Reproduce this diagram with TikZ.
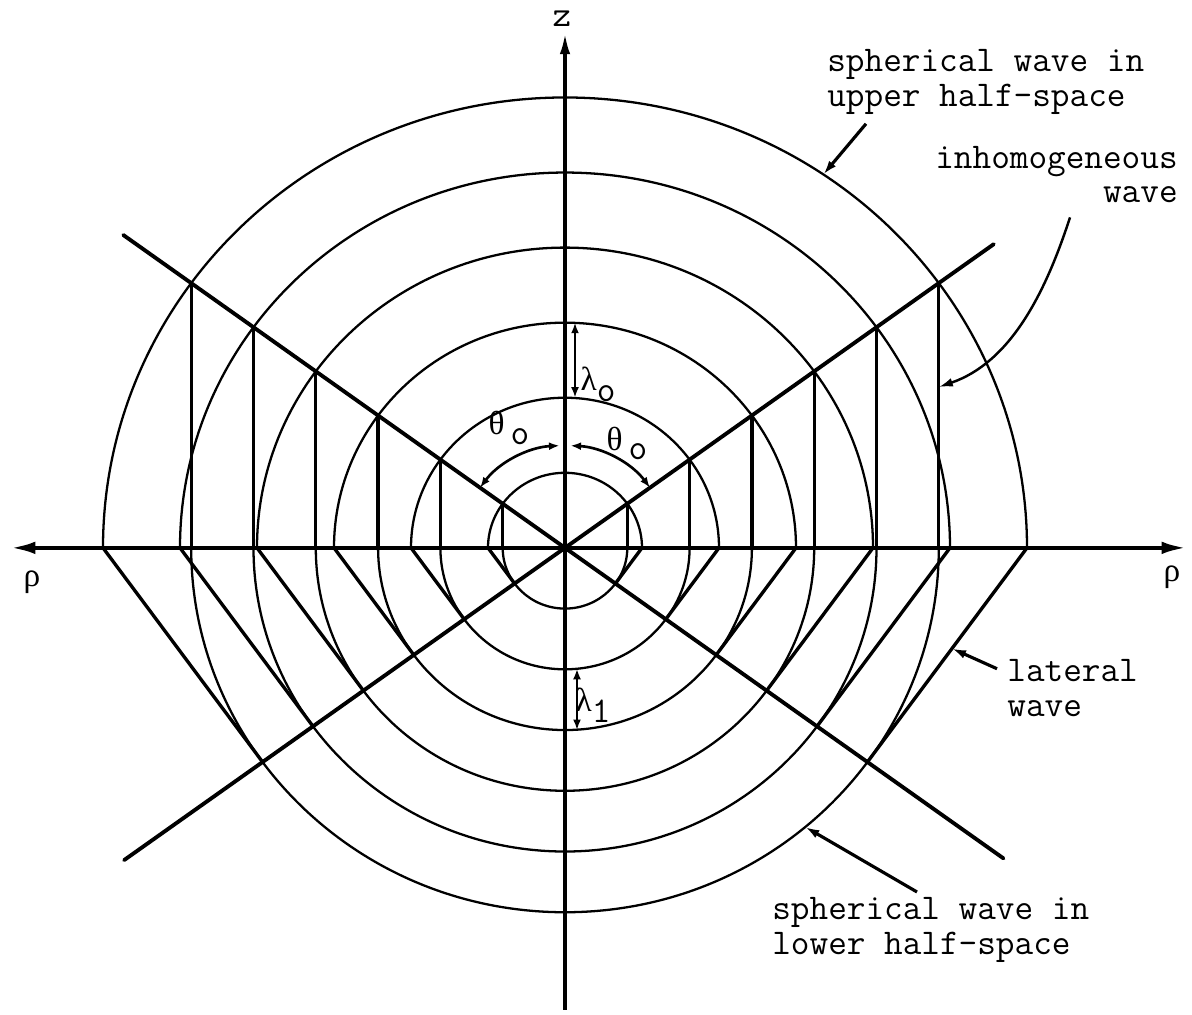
\documentclass[tikz,border=0pt]{standalone}
\usepackage{fontspec}
\newfontfamily\greekfont{Liberation Serif}
\newcommand\grk[1]{{\greekfont\fontsize{19}{19}\selectfont #1}}
\usetikzlibrary{arrows.meta, calc}

\begin{document}
\begin{tikzpicture}[
    x=0.02cm, y=0.0195cm,
    wavefront/.style={line width=1.3pt},
    evanline/.style={line width=1.9pt},
    lateralline/.style={line width=1.9pt},
    ray/.style={line width=2.2pt, line cap=round},
    axisline/.style={line width=2.6pt},
    zaxisline/.style={line width=1.9pt},
    dimarr/.style={{Latex[length=6pt,width=4.5pt]}-{Latex[length=6pt,width=4.5pt]}, line width=1.5pt},
    lblarr/.style={-{Latex[length=8pt,width=5pt]}, line width=1.8pt},
    lbl/.style={font=\ttfamily\fontsize{20.6}{19.6}\selectfont, inner sep=0pt},
]

\def\lamo{77}
\def\lamone{62.3}
\def\crit{36}

\useasboundingbox (-565,-479) rectangle (627,562);

\coordinate (O) at (0,0);

% ---- Upper half-space: spherical wave ----
\foreach \n in {1,...,6}
  \draw[wavefront] (\n*\lamo,0) arc[start angle=0, end angle=180, radius=\n*\lamo];

% ---- Lower half-space: spherical wave ----
\foreach \n in {1,...,6}
  \draw[wavefront] (-\n*\lamone,0) arc[start angle=180, end angle=360, radius=\n*\lamone];

% ---- Inhomogeneous wave ----
\foreach \n in {1,...,6} {
  \draw[evanline] (\n*\lamone,0) -- (\n*\lamone,{\n*\lamo*sin(\crit)});
  \draw[evanline] (-\n*\lamone,0) -- (-\n*\lamone,{\n*\lamo*sin(\crit)});
}

% ---- Lateral wave ----
\foreach \n in {1,...,6} {
  \draw[lateralline] (\n*\lamo,0) -- (-\crit:\n*\lamone);
  \draw[lateralline] (-\n*\lamo,0) -- (180+\crit:\n*\lamone);
}

% ---- Rays at theta_o ----
\draw[ray] (O) -- (180-\crit:546);
\draw[ray] (O) -- (\crit:530);
\draw[ray] (O) -- (180+\crit:545);
\draw[ray] (O) -- (-\crit:542);

% ---- Axes ----
\draw[axisline, {Latex[length=15pt,width=7pt]}-{Latex[length=15pt,width=7pt]}] (-556,0) -- (623,0);
\draw[zaxisline, -{Latex[length=12pt,width=6pt]}] (0,-474) -- (0,528);

\node[lbl] (zlbl) at (-3,543) {z};
\node[lbl] (rholeft) at (-533,-35) {\grk{ρ}};
\node[lbl] (rhoright) at (607,-30) {\grk{ρ}};

% ---- Wavelengths and angle ----
\coordinate (lamotop) at (10,231);
\coordinate (lamobot) at (10,154);
\draw[dimarr] (lamotop) -- (lamobot);
\node[lbl] (lamolbl) at (33,168) {\grk{λ}\raisebox{-0.7ex}{o}};

\coordinate (lamonetop) at (12,-124);
\coordinate (lamonebot) at (12,-187);
\draw[dimarr] (lamonetop) -- (lamonebot);
\node[lbl] (lamonelbl) at (28,-161) {\grk{λ}\raisebox{-0.7ex}{1}};

\draw[dimarr] (93:105) arc[start angle=93, end angle=180-\crit, radius=105];
\draw[dimarr] (87:105) arc[start angle=87, end angle=\crit, radius=105];
\node[lbl] (thetaleft) at (-56,123) {\grk{θ}\,\raisebox{-0.6ex}{o}};
\node[lbl] (thetaright) at (62,107) {\grk{θ}\,\raisebox{-0.6ex}{o}};

% ---- Labels ----
\node[lbl, anchor=west, align=left] (uplbl) at (262,478) {spherical wave in\\upper half-space};
\coordinate (upfrom) at (301,435);
\coordinate (uptip) at (56:462);
\draw[lblarr] (upfrom) -- (uptip);

\node[lbl, anchor=east, align=right] (inhlbl) at (613,383) {inhomogeneous\\wave};
\coordinate (inhfrom) at (505,339);
\coordinate (inhtip) at (6*\lamone,165);
\draw[lblarr, line width=1.4pt] (inhfrom) .. controls (480,260) and (445,190) .. (inhtip);

\node[lbl, anchor=west, align=left] (latlbl) at (442,-144) {lateral\\wave};
\coordinate (latfrom) at (432,-124);
\coordinate (lattip) at ($(6*\lamo,0)!0.47!(-\crit:6*\lamone)$);
\draw[lblarr] (latfrom) -- (lattip);

\node[lbl, anchor=west, align=left] (lowlbl) at (207,-392) {spherical wave in\\lower half-space};
\coordinate (lowfrom) at (352,-353);
\coordinate (lowtip) at (-50:6*\lamone);
\draw[lblarr] (lowfrom) -- (lowtip);

\end{tikzpicture}
\end{document}
